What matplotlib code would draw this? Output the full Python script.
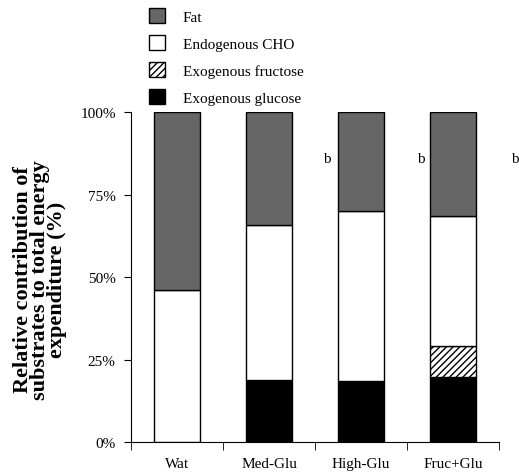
import matplotlib.pyplot as plt
from matplotlib.patches import Patch
import numpy as np

# bar groups and stacked segments (% of total energy expenditure)
groups = ['Wat', 'Med-Glu', 'High-Glu', 'Fruc+Glu']
exo_glucose = [0, 18.8, 18.5, 19.6]
exo_fructose = [0, 0, 0, 9.4]
endo_cho = [46.0, 47.0, 51.5, 39.6]
fat = [54.0, 34.2, 30.0, 31.4]

# significance letters beside bars
sig_x = [1.63, 2.65, 3.67]
sig_y = [86, 86, 86]
sig_txt = ['b', 'b', 'b']

plt.rcParams['font.family'] = ['Liberation Serif', 'DejaVu Serif']

fig = plt.figure(figsize=(5.19, 4.77), dpi=100)
ax = fig.add_axes([0.2524, 0.0713, 0.709, 0.6917])

x = np.arange(len(groups))
w = 0.5
b1 = np.array(exo_glucose)
b2 = b1 + np.array(exo_fructose)
b3 = b2 + np.array(endo_cho)

ax.bar(x, exo_glucose, w, color='black', edgecolor='black', linewidth=1)
ax.bar(x, exo_fructose, w, bottom=b1, color='white', edgecolor='black',
       hatch='/////', linewidth=1)
ax.bar(x, endo_cho, w, bottom=b2, color='white', edgecolor='black', linewidth=1)
ax.bar(x, fat, w, bottom=b3, color='#666666', edgecolor='black', linewidth=1)

for sx, sy, st in zip(sig_x, sig_y, sig_txt):
    ax.text(sx, sy, st, fontsize=11, ha='center', va='center', clip_on=False)

ax.set_xlim(-0.5, 3.5)
ax.set_ylim(0, 100)
ax.set_yticks([0, 25, 50, 75, 100])
ax.set_yticklabels(['0%', '25%', '50%', '75%', '100%'], fontsize=11)
ax.set_xticks(x)
ax.set_xticklabels(groups, fontsize=11)
ax.tick_params(axis='x', which='major', length=0, pad=11)
ax.set_xticks(np.arange(-0.5, 4, 1), minor=True)
ax.tick_params(axis='x', which='minor', length=6, direction='out')
ax.tick_params(axis='y', length=5, direction='out', pad=6)

ax.spines['top'].set_visible(False)
ax.spines['right'].set_visible(False)

fig.text(40 / 519, 1 - 280 / 477,
         'Relative contribution of\nsubstrates to total energy\nexpenditure (%)',
         fontsize=16, fontweight='bold', rotation=90, ha='center', va='center',
         linespacing=0.8, multialignment='center')

handles = [
    Patch(facecolor='#666666', edgecolor='black', label='Fat'),
    Patch(facecolor='white', edgecolor='black', label='Endogenous CHO'),
    Patch(facecolor='white', edgecolor='black', hatch='/////', label='Exogenous fructose'),
    Patch(facecolor='black', edgecolor='black', label='Exogenous glucose'),
]
fig.legend(handles=handles, loc='upper left', bbox_to_anchor=(0.27, 1.0),
           frameon=False, fontsize=11, handlelength=1.0, handleheight=1.1,
           labelspacing=0.75, handletextpad=1.2, borderaxespad=0.2)

plt.savefig('out.png', dpi=100)
